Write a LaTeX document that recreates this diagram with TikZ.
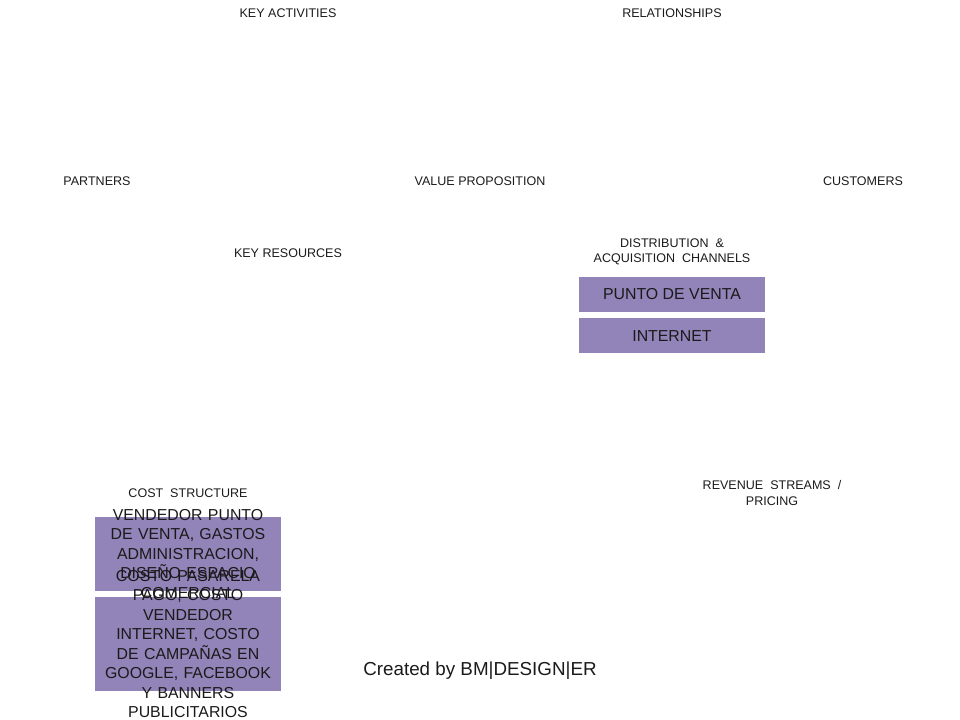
\documentclass[tikz,border=0pt]{standalone}
\usepackage{fontspec}
\setmainfont{Liberation Sans}
\usepackage{xcolor}
\usetikzlibrary{positioning}
\definecolor{boxPurple}{HTML}{9283B8}
\definecolor{labelText}{HTML}{1A1A1A}
\hyphenpenalty=10000
\exhyphenpenalty=10000

\begin{document}
\begin{tikzpicture}[
        x=0.75pt, y=-0.75pt,
        every node/.style={inner sep=0pt, text=labelText},
        blocklabel/.style={font=\fontsize{9.4}{11.6}\selectfont, align=center},
        chanbox/.style={rectangle, fill=boxPurple, minimum width=139.5pt, minimum height=26pt,
                        font=\fontsize{11.9}{14.6}\selectfont},
        costbox/.style={rectangle, fill=boxPurple, minimum width=139.5pt},
        costtext/.style={text width=127.5pt, align=center,
                         font=\fontsize{11.9}{14.6}\selectfont},
      ]
        \useasboundingbox (0,0) rectangle (960,720);

        % Block titles
        \node[blocklabel] (act) at (288,13) {KEY ACTIVITIES};
        \node[blocklabel] (rel) at (672,13) {RELATIONSHIPS};
        \node[blocklabel] (part) at (97,181) {PARTNERS};
        \node[blocklabel] (val) at (480,181) {VALUE PROPOSITION};
        \node[blocklabel] (cust) at (863,181) {CUSTOMERS};
        \node[blocklabel] (res) at (288,253) {KEY RESOURCES};
        \node[blocklabel] (chan) at (672,252) {DISTRIBUTION~~\&\\ACQUISITION~~CHANNELS};
        \node[blocklabel] (cost) at (188,493) {COST~~STRUCTURE};
        \node[blocklabel] (rev) at (772,493) {REVENUE~~STREAMS~~/\\PRICING};

        % Channels
        \node[chanbox] (punto) at (672,294.5) {PUNTO DE VENTA};
        \node[chanbox, below=4.5pt of punto] (inet) {INTERNET};

        % Costs
        \node[costbox, minimum height=55.5pt] (costA) at (188,554) {};
        \node[costbox, minimum height=70.5pt] (costB) at (188,644) {};
        \node[costtext] (costAtxt) at (costA.center) {VENDEDOR PUNTO DE VENTA, GASTOS ADMINISTRACION, DISEÑO ESPACIO COMERCIAL};
        \node[costtext] (costBtxt) at (costB.center) {COSTO PASARELA PAGO, COSTO VENDEDOR INTERNET, COSTO DE CAMPAÑAS EN GOOGLE, FACEBOOK Y BANNERS PUBLICITARIOS};

        \node[font=\fontsize{14.1}{17}\selectfont] (credit) at (480,671) {Created by BM|DESIGN|ER};
      \end{tikzpicture}
\end{document}
